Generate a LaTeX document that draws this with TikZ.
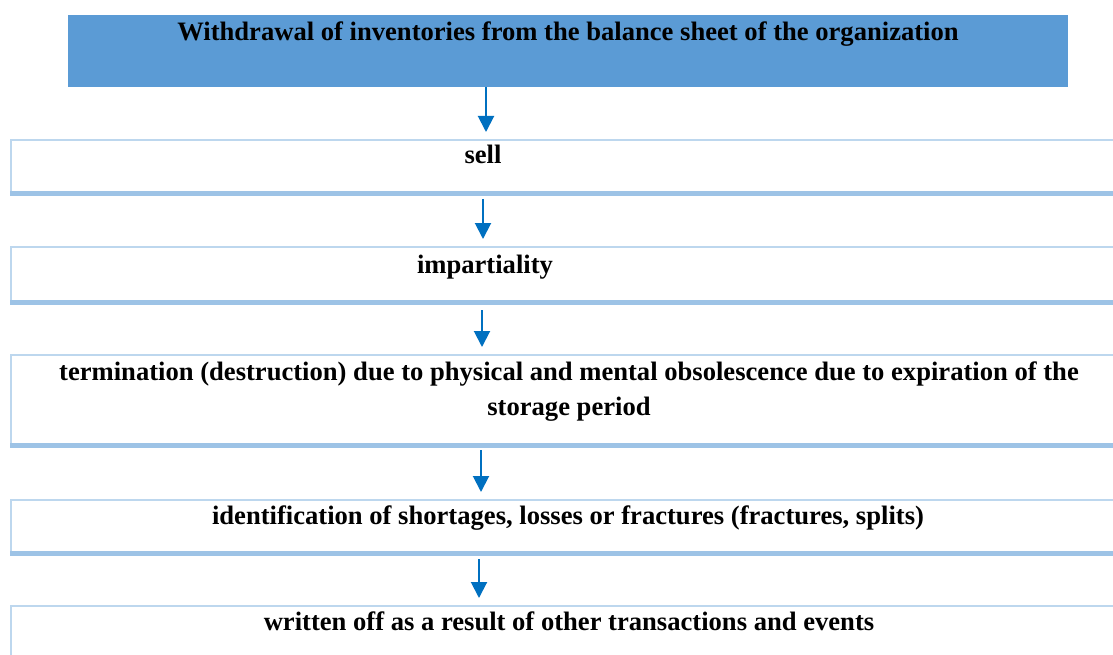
\documentclass[tikz,border=0pt]{standalone}
\usepackage{fontspec}
\setmainfont{Liberation Serif}
\usetikzlibrary{arrows.meta}
\definecolor{topfill}{HTML}{5B9BD5}
\definecolor{boxline}{HTML}{BDD7EE}
\definecolor{boxbottom}{HTML}{9DC3E6}
\definecolor{arrowcol}{HTML}{0070C0}
\begin{document}
\begin{tikzpicture}[x=1pt,y=-1pt,
  stepbox/.style={draw=boxline, line width=2pt, fill=white},
  bottomedge/.style={draw=boxbottom, line width=5pt},
  label/.style={font=\fontsize{26.6}{35}\selectfont\bfseries, text=black, inner sep=0pt, align=center},
  flow/.style={draw=arrowcol, line width=2pt, -{Triangle[width=16pt,length=16pt]}, shorten >=7pt}
]
\useasboundingbox (0,0) rectangle (1113,655);
\fill[white] (0,0) rectangle (1113,655);
% top box
\node[fill=topfill, minimum width=1000pt, minimum height=72pt, inner sep=0pt, anchor=north west] (top) at (68,15) {};
\node[label, anchor=base] (ttop) at (568,41) {Withdrawal of inventories from the balance sheet of the organization};
% boxes
\node[stepbox, minimum width=1130pt, minimum height=53pt, inner sep=0pt, anchor=north west] (b1) at (10,139) {};
\draw[bottomedge] (b1.south west) -- (b1.south east);
\node[stepbox, minimum width=1130pt, minimum height=54pt, inner sep=0pt, anchor=north west] (b2) at (10,246) {};
\draw[bottomedge] (b2.south west) -- (b2.south east);
\node[stepbox, minimum width=1130pt, minimum height=89pt, inner sep=0pt, anchor=north west] (b3) at (10,354) {};
\draw[bottomedge] (b3.south west) -- (b3.south east);
\node[stepbox, minimum width=1130pt, minimum height=52pt, inner sep=0pt, anchor=north west] (b4) at (10,499) {};
\draw[bottomedge] (b4.south west) -- (b4.south east);
\node[stepbox, minimum width=1130pt, minimum height=60pt, inner sep=0pt, anchor=north west] (b5) at (10,605) {};
% texts
\node[label, anchor=base] (t1) at (483,164) {sell};
\node[label, anchor=base] (t2) at (485,273) {impartiality};
\node[label, anchor=base] (t3) at (569,415) {termination (destruction) due to physical and mental obsolescence due to expiration of the\\storage period};
\node[label, anchor=base] (t4) at (568,524) {identification of shortages, losses or fractures (fractures, splits)};
\node[label, anchor=base] (t5) at (569,630) {written off as a result of other transactions and events};
% arrows
\coordinate (x1) at (486,0);
\coordinate (x2) at (483,0);
\coordinate (x3) at (482,0);
\coordinate (x4) at (481,0);
\coordinate (x5) at (479,0);
\draw[flow] (top.south -| x1) -- (b1.north -| x1);
\draw[flow] ([yshift=-5pt]b1.south -| x2) -- (b2.north -| x2);
\draw[flow] ([yshift=-8pt]b2.south -| x3) -- (b3.north -| x3);
\draw[flow] ([yshift=-5pt]b3.south -| x4) -- (b4.north -| x4);
\draw[flow] ([yshift=-6pt]b4.south -| x5) -- (b5.north -| x5);
\end{tikzpicture}
\end{document}
